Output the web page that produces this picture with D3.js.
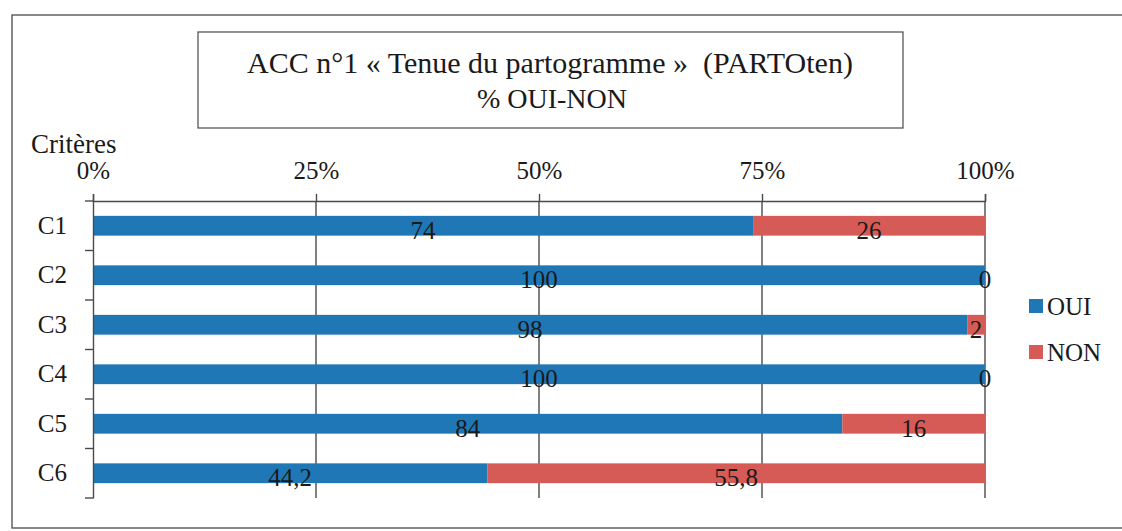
<!DOCTYPE html>
<html>
<head>
<meta charset="utf-8">
<script src="https://cdn.jsdelivr.net/npm/d3@7"></script>
<style>
  html, body { margin: 0; padding: 0; background: #fff; }
  text { font-family: "Liberation Serif", "Times New Roman", serif; fill: #1a1a1a; }
</style>
</head>
<body>
<svg id="chart" width="1122" height="531"></svg>
<script>
const categories = ["C1", "C2", "C3", "C4", "C5", "C6"];
const ouiValues = [74, 100, 98, 100, 84, 44.2];
const nonValues = [26, 0, 2, 0, 16, 55.8];
const seriesNames = ["OUI", "NON"];
const tickValues = [0, 0.25, 0.5, 0.75, 1];
const titleLines = ["ACC n°1 « Tenue du partogramme »  (PARTOten)", "% OUI-NON"];
const axisTitle = "Critères";

const colors = { OUI: "#1f78b5", NON: "#d65b56" };
const lineColor = "#4a4a4a";

const svg = d3.select("#chart");
const W = 1122, H = 531;

const table = categories.map((c, i) => ({ cat: c, OUI: ouiValues[i] / 100, NON: nonValues[i] / 100, rawOUI: ouiValues[i], rawNON: nonValues[i] }));
const stacked = d3.stack().keys(seriesNames)(table);

// outer frame
svg.append("rect").attr("x", 12).attr("y", 15).attr("width", 1130).attr("height", 513)
  .attr("fill", "none").attr("stroke", lineColor).attr("stroke-width", 1.3);

// title box
svg.append("rect").attr("x", 198).attr("y", 32).attr("width", 705).attr("height", 96)
  .attr("fill", "none").attr("stroke", lineColor).attr("stroke-width", 1.2);
svg.append("text").attr("x", 550).attr("y", 73).attr("text-anchor", "middle")
  .style("font-size", "30px").style("white-space", "pre").text(titleLines[0]);
svg.append("text").attr("x", 552).attr("y", 108).attr("text-anchor", "middle")
  .style("font-size", "28px").text(titleLines[1]);

const x = d3.scaleLinear().domain([0, 1]).range([93, 985]);
const y = d3.scaleBand().domain(categories).range([201, 498]).paddingInner(0.6).paddingOuter(0.3);

// gridlines
svg.append("g").selectAll("line").data(tickValues.slice(1)).join("line")
  .attr("x1", d => x(d)).attr("x2", d => x(d)).attr("y1", 201).attr("y2", 498)
  .attr("stroke", lineColor).attr("stroke-width", 1.4);

// bars
const groups = svg.append("g").selectAll("g").data(stacked).join("g")
  .attr("fill", d => colors[d.key]);
groups.selectAll("rect").data(d => d).join("rect")
  .attr("x", d => x(d[0])).attr("width", d => x(d[1]) - x(d[0]))
  .attr("y", d => y(d.data.cat)).attr("height", y.bandwidth());

// top axis
const xAxis = svg.append("g").attr("transform", "translate(0,201)")
  .call(d3.axisTop(x).tickValues(tickValues).tickFormat(d3.format(".0%")).tickSize(7).tickPadding(15));
xAxis.select(".domain").attr("stroke", lineColor).attr("stroke-width", 1.4);
xAxis.selectAll(".tick line").attr("stroke", lineColor).attr("stroke-width", 1.4);
xAxis.selectAll("text").style("font-size", "25px").style("font-family", "'Liberation Serif', serif").attr("fill", "#1a1a1a");

// left axis
const yAxis = svg.append("g").attr("transform", "translate(93,0)")
  .call(d3.axisLeft(y).tickSize(0).tickPadding(26));
yAxis.select(".domain").attr("stroke", lineColor).attr("stroke-width", 1.4);
yAxis.selectAll("text").style("font-size", "25px").style("font-family", "'Liberation Serif', serif").attr("fill", "#1a1a1a");
// boundary ticks
const bounds = d3.range(categories.length + 1).map(i => 201 + i * y.step() - (i === 0 ? 0 : 0));
svg.append("g").selectAll("line").data(d3.range(categories.length + 1)).join("line")
  .attr("x1", 85).attr("x2", 93)
  .attr("y1", i => y.range()[0] + i * (y.range()[1] - y.range()[0]) / categories.length)
  .attr("y2", i => y.range()[0] + i * (y.range()[1] - y.range()[0]) / categories.length)
  .attr("stroke", lineColor).attr("stroke-width", 1.4);

svg.append("text").attr("x", 31).attr("y", 153).style("font-size", "27px").text(axisTitle);

// data labels
const fmt = v => String(v).replace(".", ",");
groups.selectAll("text").data(d => d.map(s => ({ s, key: d.key }))).join("text")
  .attr("x", d => (x(d.s[0]) + x(d.s[1])) / 2)
  .attr("y", d => y(d.s.data.cat) + y.bandwidth() / 2)
  .attr("dy", "0.52em")
  .attr("text-anchor", "middle")
  .style("font-size", "25px")
  .attr("fill", "#1a1a1a")
  .text(d => fmt(d.key === "OUI" ? d.s.data.rawOUI : d.s.data.rawNON));

// legend
const legend = svg.append("g").selectAll("g").data(seriesNames).join("g")
  .attr("transform", (d, i) => `translate(1029,${299 + i * 46})`);
legend.append("rect").attr("width", 14).attr("height", 14).attr("fill", d => colors[d]);
legend.append("text").attr("x", 18).attr("y", 16).style("font-size", "25px").text(d => d);
</script>
</body>
</html>
